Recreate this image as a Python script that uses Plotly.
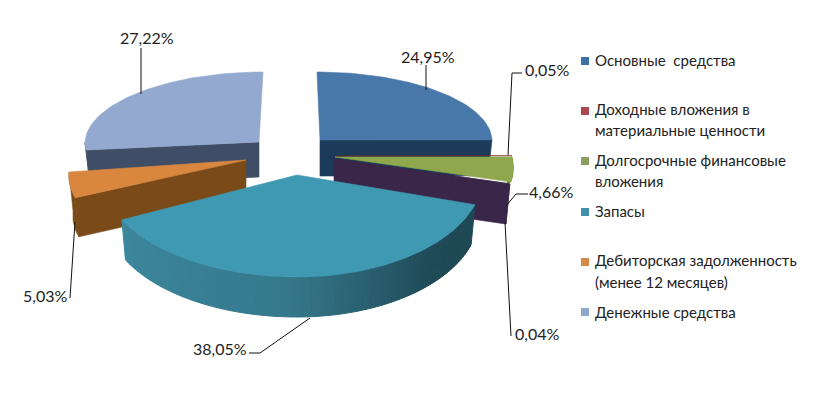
import math
import plotly.graph_objects as go

categories = ["Основные средства", "Доходные вложения в материальные ценности",
              "Долгосрочные финансовые вложения", "Запасы",
              "Дебиторская задолженность (менее 12 месяцев)", "Денежные средства"]
legend_lines = [["Основные  средства"], ["Доходные вложения в", "материальные ценности"],
                ["Долгосрочные финансовые", "вложения"], ["Запасы"],
                ["Дебиторская задолженность", "(менее 12 месяцев)"], ["Денежные средства"]]
slice_names = ["Основные средства", "Доходные вложения", "Долгосрочные", "Прочее", "Запасы", "Дебиторская", "Денежные"]
values = [24.95, 0.05, 4.66, 0.04, 38.05, 5.03, 27.22]
legend_colors = ["#3f70a5", "#a84a50", "#8c9f5e", "#3f90a8", "#d68a48", "#92a8cc"]

# geometry of every exploded slice on the page
G = {
    0: dict(cx=320, cy=140, rr=172, rl=172, rb=68, rf=68, skew=-3, depth=36, top="#4877aa", side="#1c3a5a"),
    1: dict(cx=335, cy=156, rr=177, rl=177, rb=86, rf=86, skew=0, depth=2, top="#6e2e1c", side="#6e2e1c"),
    2: dict(cx=335, cy=157, rr=177, rl=177, rb=86, rf=86, skew=-22, depth=2, top="#8fa84e", side="#66761f"),
    3: dict(cx=334, cy=159, rr=177, rl=177, rb=86, rf=86, skew=-22, depth=40, top="#3a2648", side="#3a2648"),
    4: dict(cx=297, cy=175, rr=186, rl=195, rb=102, rf=102, skew=0, depth=40, top="#4099b2", side=None),
    5: dict(cx=246, cy=160, rr=174, rl=174, rb=86, rf=86, skew=33, depth=39, top="#d9873f", side="#7a4a18"),
    6: dict(cx=259, cy=142, rr=174, rl=174, rb=70, rf=58, skew=4, depth=35, top="#93a9cf", side="#3f4d66"),
}
LEAN = 4
draw_order = [6, 0, 5, 1, 2, 3, 4]

label_pos = {0: (428, 56), 1: (547, 69), 2: (551, 191), 3: (537, 333), 4: (220, 348), 5: (45, 295), 6: (147, 37)}
leaders = {
    0: [(426, 65), (426, 90)],
    1: [(522, 73), (512, 73), (508, 155)],
    2: [(528, 194), (516, 194), (506, 206)],
    3: [(511, 336), (505, 222)],
    4: [(249, 353), (260, 353), (310, 318)],
    5: [(70, 298), (75, 222)],
    6: [(141, 48), (141, 94)],
}
legend_y = [[60], [109, 130], [160, 181], [211], [260, 282], [312]]
marker_y = [61, 111, 161, 212, 262, 312]


def rim(g, deg, down=0.0):
    t = math.radians(deg)
    s, c = math.sin(t), math.cos(t)
    x = g["cx"] + (g["rr"] if s >= 0 else g["rl"]) * s + g["skew"] * c
    y = g["cy"] - (g["rb"] if c >= 0 else g["rf"]) * c
    if down:
        x -= LEAN * s
        y += down
    return x, y


def mix(a, b, f):
    pa = [int(a[i:i + 2], 16) for i in (1, 3, 5)]
    pb = [int(b[i:i + 2], 16) for i in (1, 3, 5)]
    return "#%02x%02x%02x" % tuple(round(p + (q - p) * f) for p, q in zip(pa, pb))


teal_stops = [(0.0, "#3c879d"), (0.45, "#35788c"), (0.62, "#2a6172"), (0.8, "#1f4a57"), (1.0, "#1e4854")]


def teal_side(f):
    # f = 0 at left end of the rim, 1 at right end
    for (f0, c0), (f1, c1) in zip(teal_stops, teal_stops[1:]):
        if f <= f1:
            return mix(c0, c1, (f - f0) / (f1 - f0))
    return teal_stops[-1][1]


fig = go.Figure()


def poly(pts, color, lw=0.6):
    xs = [p[0] for p in pts] + [pts[0][0]]
    ys = [p[1] for p in pts] + [pts[0][1]]
    fig.add_trace(go.Scatter(x=xs, y=ys, mode="lines", fill="toself", fillcolor=color,
                             line=dict(color=color, width=lw), hoverinfo="skip", showlegend=False))


# start and end angle of each slice from the values
total = sum(values)
angles = []
acc = 0.0
for v in values:
    angles.append((acc / total * 360, (acc + v) / total * 360))
    acc += v

# which cut face of a slice looks towards the viewer: 1 = its end edge, 0 = its start edge
visible_cut = {0: 1, 3: 1, 5: 0, 6: 0}

for i in draw_order:
    g = G[i]
    a0, a1 = angles[i]
    steps = max(2, int((a1 - a0) / 1.5))
    arc = [a0 + (a1 - a0) * k / steps for k in range(steps + 1)]
    tip = (g["cx"], g["cy"])
    d = g["depth"]
    tip_low = (g["cx"], g["cy"] + d)

    if i in visible_cut:
        cut = (a0, a1)[visible_cut[i]]
        poly([tip, rim(g, cut), rim(g, cut, d), tip_low], g["side"])

    # outer wall, front half only
    front = [a for a in arc if 90 <= a <= 270]
    if len(front) >= 2:
        if i == 4:
            n = len(front) - 1
            for k in range(n):
                col = teal_side(1 - k / n)
                poly([rim(g, front[k]), rim(g, front[k + 1]),
                      rim(g, front[k + 1], d), rim(g, front[k], d)], col, 1)
        else:
            poly([rim(g, a) for a in front] + [rim(g, a, d) for a in reversed(front)], g["side"])

    poly([tip] + [rim(g, a) for a in arc], g["top"])

# leader lines and value labels
for i, pts in leaders.items():
    fig.add_trace(go.Scatter(x=[p[0] for p in pts], y=[p[1] for p in pts], mode="lines",
                             line=dict(color="#111111", width=1), hoverinfo="skip", showlegend=False))
annotations = []
for i, (x, y) in label_pos.items():
    annotations.append(dict(x=x, y=y, text=f"{values[i]:.2f}%".replace(".", ","), showarrow=False,
                            xanchor="center", yanchor="middle",
                            font=dict(family="Lato, Noto Sans, sans-serif", size=16, color="#222222")))

# legend
fig.add_trace(go.Scatter(x=[585] * len(marker_y), y=marker_y, mode="markers", hoverinfo="skip", showlegend=False,
                         marker=dict(symbol="square", size=8, color=legend_colors)))
for lines, ys in zip(legend_lines, legend_y):
    for text, y in zip(lines, ys):
        annotations.append(dict(x=593, y=y, text=text, showarrow=False, xanchor="left", yanchor="middle",
                                font=dict(family="Lato, Noto Sans, sans-serif", size=15, color="#222222")))

fig.update_layout(
    width=822, height=394, margin=dict(l=0, r=0, t=0, b=0),
    paper_bgcolor="white", plot_bgcolor="white", showlegend=False, annotations=annotations,
    xaxis=dict(range=[0, 822], visible=False, fixedrange=True),
    yaxis=dict(range=[394, 0], visible=False, fixedrange=True),
)
fig.write_html("out.html", config={"displayModeBar": False},
               post_script="document.body.style.margin='0';document.body.style.overflow='hidden';")
